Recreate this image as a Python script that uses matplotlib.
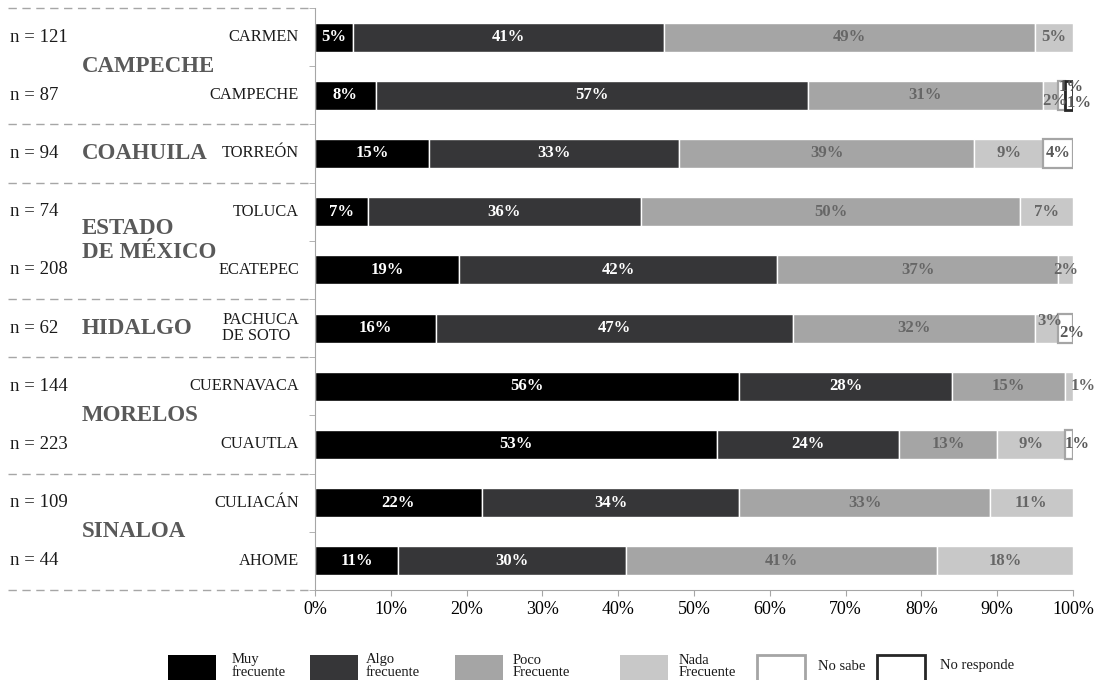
import matplotlib
matplotlib.use('Agg')
import matplotlib.pyplot as plt
import matplotlib.transforms as mtransforms
from matplotlib.patches import Rectangle
from matplotlib.lines import Line2D
import numpy as np

plt.rcParams['font.family'] = ['Liberation Serif', 'DejaVu Serif']

# --- data (top to bottom) ---
ciudades = ['CARMEN', 'CAMPECHE', 'TORREÓN', 'TOLUCA', 'ECATEPEC',
            'PACHUCA\nDE SOTO', 'CUERNAVACA', 'CUAUTLA', 'CULIACÁN', 'AHOME']
n_muestra = [121, 87, 94, 74, 208, 62, 144, 223, 109, 44]
estados = ['CAMPECHE', 'COAHUILA', 'ESTADO\nDE MÉXICO', 'HIDALGO', 'MORELOS', 'SINALOA']
filas_por_estado = [2, 1, 2, 1, 2, 2]

muy_frecuente = [5, 8, 15, 7, 19, 16, 56, 53, 22, 11]
algo_frecuente = [41, 57, 33, 36, 42, 47, 28, 24, 34, 30]
poco_frecuente = [49, 31, 39, 50, 37, 32, 15, 13, 33, 41]
nada_frecuente = [5, 2, 9, 7, 2, 3, 1, 9, 11, 18]
no_sabe = [0, 1, 4, 0, 0, 2, 0, 1, 0, 0]
no_responde = [0, 1, 0, 0, 0, 0, 0, 0, 0, 0]

categorias = ['Muy\nfrecuente', 'Algo\nfrecuente', 'Poco\nFrecuente',
              'Nada\nFrecuente', 'No sabe', 'No responde']
x_ticks = [0, 10, 20, 30, 40, 50, 60, 70, 80, 90, 100]

# --- style ---
W, H = 1097, 680
face = ['#000000', '#363638', '#a5a5a5', '#c8c8c8', 'white', 'white']
edge = ['white', 'white', 'white', 'white', '#a5a5a5', '#262626']
lws = [1, 1, 1, 1, 1.6, 2.0]
txt_col = ['white', 'white', '#666666', '#666666', '#595959', '#595959']
grey = '#a6a6a6'

# labels of tiny segments moved off-centre: (row, series) -> (x %, dy rows)
label_pos = {(1, 3): (97.6, 0.09), (1, 4): (99.7, -0.14), (1, 5): (100.8, 0.14),
             (5, 3): (96.9, -0.12), (5, 4): (99.9, 0.09),
             (6, 3): (101.3, 0.0), (7, 4): (100.5, 0.0)}


def fx(px):
    return px / W


def fy(py):
    return 1 - py / H


fig = plt.figure(figsize=(W / 100, H / 100), dpi=100)
ax = fig.add_axes([fx(315), fy(590), fx(1073) - fx(315), fy(8) - fy(590)])

series = [muy_frecuente, algo_frecuente, poco_frecuente, nada_frecuente,
          no_sabe, no_responde]
y = np.arange(len(ciudades))
left = np.zeros(len(ciudades))
for s, vals in enumerate(series):
    vals = np.array(vals, dtype=float)
    m = vals > 0
    ax.barh(y[m], vals[m], left=left[m], height=0.5, color=face[s],
            edgecolor=edge[s], linewidth=lws[s], zorder=2 if s < 4 else 3)
    for i, v in enumerate(vals):
        if v <= 0:
            continue
        xc, dy = label_pos.get((i, s), (left[i] + v / 2, 0.0))
        ax.text(xc, y[i] + dy, f'{int(v)}%', ha='center', va='center',
                fontsize=12, fontweight='bold', color=txt_col[s], zorder=4,
                clip_on=False)
    left += vals

ax.set_xlim(0, 100)
ax.set_ylim(len(ciudades) - 0.5, -0.5)
ax.set_xticks(x_ticks)
ax.set_xticklabels([f'{t}%' for t in x_ticks], fontsize=13)
ax.set_yticks([])
ax.set_yticks(np.arange(-0.5, len(ciudades)), minor=True)
ax.tick_params(axis='y', which='minor', length=4, color=grey, direction='out')
ax.tick_params(axis='x', length=4, color=grey, pad=4)
for sp in ['top', 'right']:
    ax.spines[sp].set_visible(False)
ax.spines['left'].set_color(grey)
ax.spines['bottom'].set_color(grey)

# --- left side annotations ---
tr = mtransforms.blended_transform_factory(fig.transFigure, ax.transData)
for i in range(len(ciudades)):
    fig.text(fx(10), y[i], f'n = {n_muestra[i]}', transform=tr,
             ha='left', va='center', fontsize=13.5, color='#1a1a1a')
    fig.text(fx(299), y[i], ciudades[i], transform=tr, ha='right',
             va='center', multialignment='left', fontsize=11.8,
             color='#1a1a1a', linespacing=1.0)

start = 0
bounds = [-0.5]
for est, k in zip(estados, filas_por_estado):
    fig.text(fx(82), start + (k - 1) / 2, est, transform=tr, ha='left',
             va='center', fontsize=16.5, fontweight='bold', color='#595959',
             linespacing=1.2)
    start += k
    bounds.append(start - 0.5)

for b in bounds:
    fig.add_artist(Line2D([fx(8), fx(313)], [b, b], transform=tr,
                          color=grey, lw=1, linestyle=(0, (6, 4))))

# --- legend ---
patch_x = [168, 310, 455, 620, 757, 877]
text_x = [232, 366, 513, 679, 818, 940]
for c in range(len(categorias)):
    fig.add_artist(Rectangle((fx(patch_x[c]), fy(681)), fx(48), 26 / H,
                             transform=fig.transFigure, facecolor=face[c],
                             edgecolor=edge[c] if c >= 4 else face[c],
                             linewidth=2 if c >= 4 else 0))
    fig.text(fx(text_x[c]), fy(666), categorias[c], ha='left', va='center',
             fontsize=10.5, linespacing=0.9, color='#1a1a1a')

fig.savefig('out.png', dpi=100)
plt.close(fig)
